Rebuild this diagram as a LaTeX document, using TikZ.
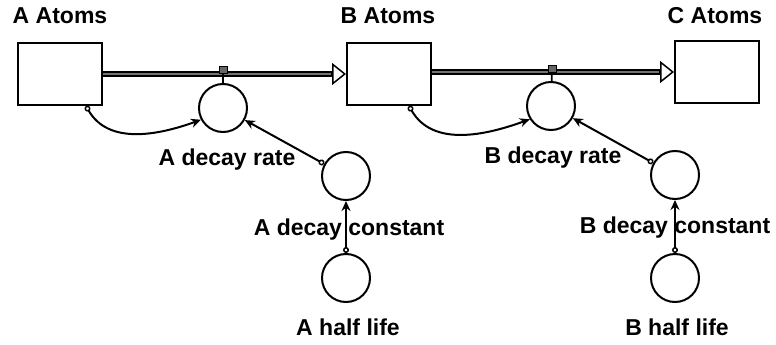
\documentclass[tikz,border=0pt]{standalone}
\usepackage{fontspec}
\setmainfont{Liberation Sans}
\usetikzlibrary{arrows.meta}
\begin{document}
\begin{tikzpicture}[x=1pt,y=1pt,
  stock/.style={draw, line width=2pt, minimum width=84pt, minimum height=62pt, inner sep=0pt},
  conv/.style={draw, circle, line width=2pt, minimum size=48pt, inner sep=0pt},
  lbl/.style={font=\fontsize{23}{27}\selectfont\bfseries, inner sep=0pt, anchor=base},
  pipe/.style={draw=black, line width=2pt, double=black!55, double distance=2.6pt},
  pipetip/.style={line width=1.5pt, -{Triangle[open, fill=white, length=14pt, width=22pt]}},
  valve/.style={draw, fill=black!60, line width=1pt, minimum width=8pt, minimum height=7pt, inner sep=0pt},
  link/.style={line width=2pt, {Circle[open, fill=white, length=6pt, width=6pt, line width=1.5pt]}-{Stealth[length=10pt, width=9pt]}},
  stem/.style={line width=1.8pt}
  ]
\useasboundingbox (0,0) rectangle (776,-345);
% stocks
\node[stock] (A) at (60,-74) {};
\node[stock] (B) at (389,-74) {};
\node[stock] (C) at (717,-72) {};
\node[lbl] (Al) at (60,-24) {A Atoms};
\node[lbl] (Bl) at (388,-24) {B Atoms};
\node[lbl] (Cl) at (715,-24) {C Atoms};
% converters
\node[conv] (Ar) at (223,-108) {};
\node[conv] (Ac) at (346,-176) {};
\node[conv] (Ah) at (346,-278) {};
\node[conv] (Br) at (551,-106) {};
\node[conv] (Bc) at (675,-175) {};
\node[conv] (Bh) at (675,-278) {};
\node[lbl] (Arl) at (227,-165) {A decay rate};
\node[lbl] (Acl) at (349,-235) {A decay constant};
\node[lbl] (Ahl) at (348,-335) {A half life};
\node[lbl] (Brl) at (553,-163) {B decay rate};
\node[lbl] (Bcl) at (675,-233) {B decay constant};
\node[lbl] (Bhl) at (677,-335) {B half life};
% flows
\draw[pipe] (A.east) -- ([xshift=-14pt]B.west);
\draw[pipetip] ([xshift=-15pt]B.west) -- (B.west);
\draw[pipe] (B.east |- C.west) -- ([xshift=-14pt]C.west);
\draw[pipetip] ([xshift=-15pt]C.west) -- (C.west);
\node[valve] (Av) at (223,-70) {};
\node[valve] (Bv) at (552,-69) {};
\draw[stem] (Av) -- (Ar);
\draw[stem] (Bv) -- (Br);
% links
\draw[link] ([xshift=-17pt]A.south east) to[out=-60, in=200] (Ar.208);
\draw[link] (Ac) -- (Ar);
\draw[link] (Ah) -- (Ac);
\draw[link] ([xshift=-23pt]B.south east) to[out=-60, in=200] (Br.212);
\draw[link] (Bc) -- (Br);
\draw[link] (Bh) -- (Bc);
\end{tikzpicture}
\end{document}
